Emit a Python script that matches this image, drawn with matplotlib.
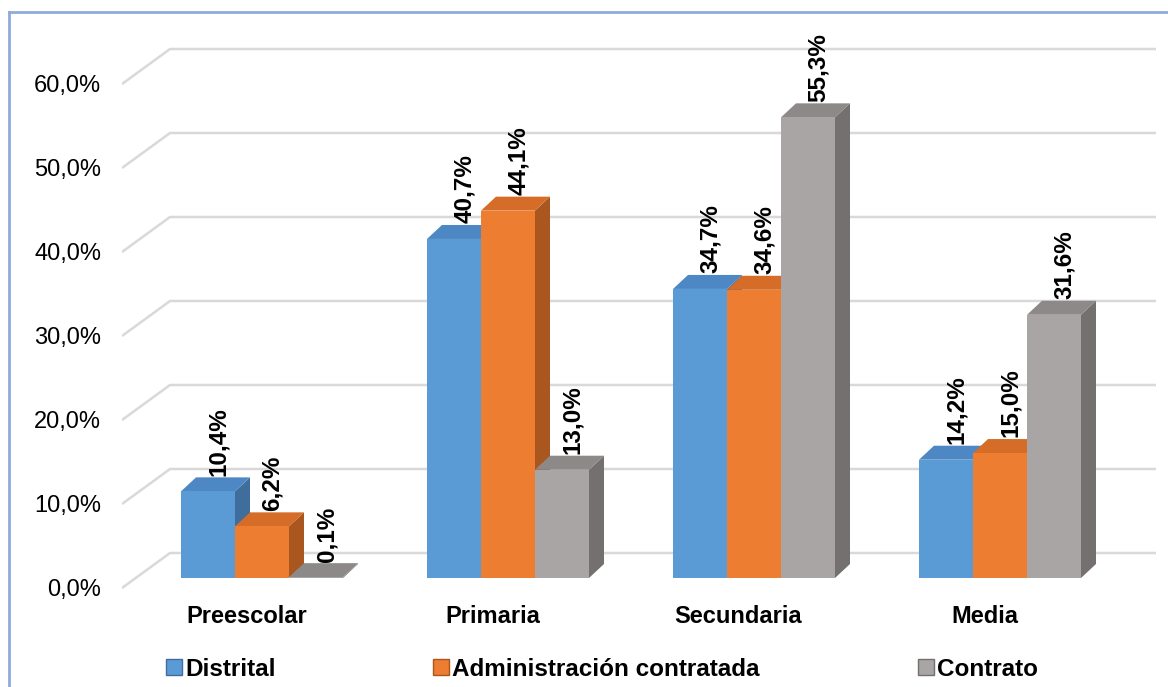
import matplotlib.pyplot as plt
from matplotlib.patches import Patch
from matplotlib.lines import Line2D

# datos del grafico
categorias = ['Preescolar', 'Primaria', 'Secundaria', 'Media']
distrital = [10.4, 40.7, 34.7, 14.2]
administracion = [6.2, 44.1, 34.6, 15.0]
contrato = [0.1, 13.0, 55.3, 31.6]
nombres = ['Distrital', 'Administración contratada', 'Contrato']
ticks_y = [0, 10, 20, 30, 40, 50, 60]

# colores: frente, lado, techo
colores = [
    ('#5B9BD5', '#3F6E9C', '#4E88C4'),
    ('#ED7D31', '#A9561F', '#D56C27'),
    ('#A9A5A4', '#74706F', '#8D8988'),
]

plt.rcParams['font.family'] = ['Liberation Sans', 'DejaVu Sans']

W, H = 1168, 687
PX_X = 246.0   # pixeles por categoria
PX_Y = 8.33    # pixeles por punto porcentual
ANCHO = 54 / PX_X
DX = 15 / PX_X
DY = 14 / PX_Y

fig = plt.figure(figsize=(W / 100, H / 100), dpi=100)
ax = fig.add_axes([122 / W, 1 - 590 / H, (1160 - 122) / W, 590 / H])
ax.set_xlim((122 - 262) / PX_X, (1160 - 262) / PX_X)
ax.set_ylim((578 - 590) / PX_Y, 578 / PX_Y)
ax.patch.set_visible(False)
for s in ax.spines.values():
    s.set_visible(False)

# paredes / lineas de cuadricula en perspectiva
x_frente = ax.get_xlim()[0]
x_fondo = (170 - 262) / PX_X
x_der = (1156 - 262) / PX_X
esc = 84 / (10 * PX_Y)
pos_ticks = []
for v in ticks_y:
    yb = 3.0 + v * esc
    yf = -1.2 + v * esc
    pos_ticks.append(yf)
    ax.plot([x_frente, x_fondo, x_der], [yf, yb, yb], color='#D9D9D9',
            lw=1.8, zorder=0, solid_capstyle='butt')

# barras con efecto 3D
series = [distrital, administracion, contrato]
for i in range(len(categorias)):
    for j, valores in enumerate(series):
        v = valores[i]
        xc = i + (j - 1) * ANCHO
        frente, lado, techo = colores[j]
        z = 2 + i * 10 + j * 2
        x0 = xc - ANCHO / 2
        x1 = xc + ANCHO / 2
        ax.fill([x1, x1 + DX, x1 + DX, x1], [0, DY, v + DY, v],
                color=lado, lw=0, zorder=z)
        ax.fill([x0, x1, x1 + DX, x0 + DX], [v, v, v + DY, v + DY],
                color=techo, lw=0, zorder=z)
        ax.bar(xc, v, width=ANCHO, color=frente, lw=0, zorder=z + 1)
        etiqueta = f'{v:.1f}%'.replace('.', ',')
        ax.text(xc + 0.7 * DX, v + DY + 0.2, etiqueta, rotation=90,
                ha='center', va='bottom', fontsize=17.5, fontweight='bold',
                color='black', zorder=100)

ax.set_yticks(pos_ticks)
ax.set_yticklabels([f'{v:.1f}%'.replace('.', ',') for v in ticks_y],
                   fontsize=17)
ax.set_xticks([i - 0.063 for i in range(len(categorias))])
ax.set_xticklabels(categorias, fontsize=17, fontweight='bold')
ax.tick_params(axis='y', length=0, pad=15)
ax.tick_params(axis='x', length=0, pad=11)

# leyenda
manejadores = [Patch(facecolor=c[0], edgecolor=c[1], lw=1) for c in colores]
fig.legend(manejadores, nombres, loc='center left',
           bbox_to_anchor=(166 / W, 1 - 669 / H), ncol=3, frameon=False,
           prop={'size': 17.5, 'weight': 'bold'}, handlelength=0.66,
           handleheight=0.66, handletextpad=0.12, columnspacing=6.5,
           borderpad=0, borderaxespad=0)

# borde del area del grafico
borde = '#8FAADC'
fig.add_artist(Line2D([9 / W, 9 / W], [0, 1 - 12 / H], color=borde, lw=2,
                      transform=fig.transFigure))
fig.add_artist(Line2D([9 / W, 1], [1 - 12 / H, 1 - 12 / H], color=borde,
                      lw=2, transform=fig.transFigure))

fig.savefig('out.png', dpi=100)
